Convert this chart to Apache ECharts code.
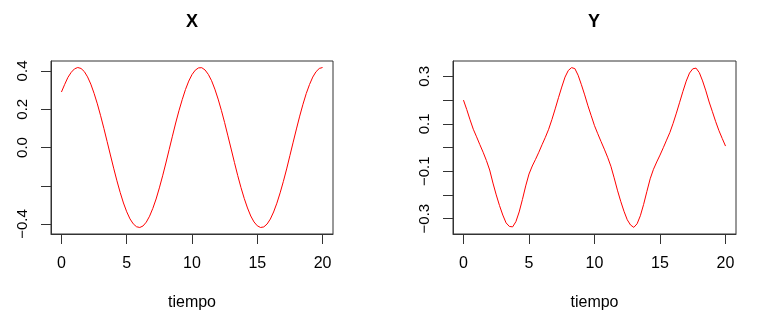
<!DOCTYPE html>
<html>
<head>
<meta charset="utf-8">
<script src="https://cdn.jsdelivr.net/npm/echarts@6/dist/echarts.min.js"></script>
<style>
html,body{margin:0;padding:0;background:#fff;}
#chart{width:761px;height:317px;}
</style>
</head>
<body>
<div id="chart"></div>
<script>
const tiempo = [0,0.25,0.5,0.75,1,1.25,1.5,1.75,2,2.25,2.5,2.75,3,3.25,3.5,3.75,4,4.25,4.5,4.75,5,5.25,5.5,5.75,6,6.25,6.5,6.75,7,7.25,7.5,7.75,8,8.25,8.5,8.75,9,9.25,9.5,9.75,10,10.25,10.5,10.75,11,11.25,11.5,11.75,12,12.25,12.5,12.75,13,13.25,13.5,13.75,14,14.25,14.5,14.75,15,15.25,15.5,15.75,16,16.25,16.5,16.75,17,17.25,17.5,17.75,18,18.25,18.5,18.75,19,19.25,19.5,19.75,20];
const serieX = [0.290,0.330,0.367,0.393,0.411,0.418,0.413,0.397,0.369,0.331,0.283,0.228,0.166,0.100,0.031,-0.039,-0.108,-0.174,-0.235,-0.290,-0.336,-0.373,-0.399,-0.414,-0.418,-0.410,-0.390,-0.359,-0.318,-0.269,-0.211,-0.148,-0.081,-0.011,0.059,0.128,0.192,0.250,0.303,0.347,0.381,0.404,0.416,0.417,0.405,0.382,0.349,0.305,0.253,0.194,0.130,0.061,-0.008,-0.078,-0.146,-0.209,-0.266,-0.316,-0.358,-0.389,-0.409,-0.418,-0.415,-0.400,-0.374,-0.337,-0.291,-0.237,-0.177,-0.112,-0.042,0.028,0.097,0.164,0.226,0.282,0.329,0.368,0.396,0.413,0.418];
const serieY = [0.200,0.160,0.117,0.077,0.045,0.012,-0.020,-0.055,-0.095,-0.150,-0.200,-0.245,-0.285,-0.318,-0.333,-0.335,-0.313,-0.272,-0.219,-0.162,-0.112,-0.078,-0.050,-0.020,0.012,0.043,0.077,0.118,0.163,0.210,0.255,0.297,0.325,0.337,0.333,0.305,0.265,0.222,0.176,0.134,0.092,0.058,0.025,-0.007,-0.041,-0.079,-0.128,-0.180,-0.227,-0.269,-0.305,-0.327,-0.337,-0.322,-0.288,-0.240,-0.185,-0.132,-0.092,-0.061,-0.032,-0.001,0.031,0.063,0.102,0.145,0.191,0.237,0.280,0.314,0.332,0.335,0.316,0.281,0.239,0.192,0.151,0.109,0.071,0.038,0.006];
const xTicks = [0,5,10,15,20];
const yTicksX = [-0.4,-0.2,0,0.2,0.4];
const yLabelsX = [-0.4,0,0.2,0.4];
const yTicksY = [-0.3,-0.2,-0.1,0,0.1,0.2,0.3];
const yLabelsY = [-0.3,-0.1,0.1,0.3];
const titles = ['X','Y'];
const xName = 'tiempo';

const FONT = '"Liberation Sans", Arial, Helvetica, sans-serif';
const LINE = '#333';
function fmt(v){ const s = Math.abs(v).toFixed(1); return v < -1e-9 ? '\u2212' + s : s; }

const chart = echarts.init(document.getElementById('chart'), null, {renderer:'canvas'});
function xAxis(gi){
  return {
    type:'value', gridIndex:gi, min:-0.8, max:20.8,
    name:xName, nameLocation:'middle', nameGap:61,
    nameTextStyle:{fontFamily:FONT, fontSize:16, color:'#000'},
    axisLine:{show:true, onZero:false, lineStyle:{color:LINE, width:1}},
    axisTick:{show:true, length:10, customValues:xTicks, lineStyle:{color:LINE}},
    axisLabel:{customValues:xTicks, margin:22, fontFamily:FONT, fontSize:16, color:'#000'},
    splitLine:{show:false}
  };
}
function yAxis(gi, lim, ticks, labels){
  return {
    type:'value', gridIndex:gi, min:-lim, max:lim,
    axisLine:{show:true, onZero:false, lineStyle:{color:LINE, width:1}},
    axisTick:{show:true, length:10, customValues:ticks, lineStyle:{color:LINE}},
    axisLabel:{customValues:labels, rotate:90, margin:21, fontFamily:FONT, fontSize:15, color:'#000', formatter:fmt},
    splitLine:{show:false}
  };
}
chart.setOption({
  animation:false,
  backgroundColor:'#fff',
  title:[
    {text:titles[0], left:181, top:8, textStyle:{fontFamily:FONT, fontSize:18, fontWeight:'bold', color:'#000'}},
    {text:titles[1], left:583, top:8, textStyle:{fontFamily:FONT, fontSize:18, fontWeight:'bold', color:'#000'}}
  ],
  grid:[
    {left:51, top:61, width:282, height:173, show:true, borderColor:LINE, borderWidth:1, backgroundColor:'transparent'},
    {left:453, top:61, width:283, height:173, show:true, borderColor:LINE, borderWidth:1, backgroundColor:'transparent'}
  ],
  xAxis:[xAxis(0), xAxis(1)],
  yAxis:[yAxis(0, 0.452, yTicksX, yLabelsX), yAxis(1, 0.365, yTicksY, yLabelsY)],
  series:[
    {type:'line', xAxisIndex:0, yAxisIndex:0, data:tiempo.map((t,i)=>[t, serieX[i]]), smooth:false, showSymbol:false, lineStyle:{color:'#ff0000', width:1}},
    {type:'line', xAxisIndex:1, yAxisIndex:1, data:tiempo.map((t,i)=>[t, serieY[i]]), smooth:false, showSymbol:false, lineStyle:{color:'#ff0000', width:1}}
  ]
});
</script>
</body>
</html>
